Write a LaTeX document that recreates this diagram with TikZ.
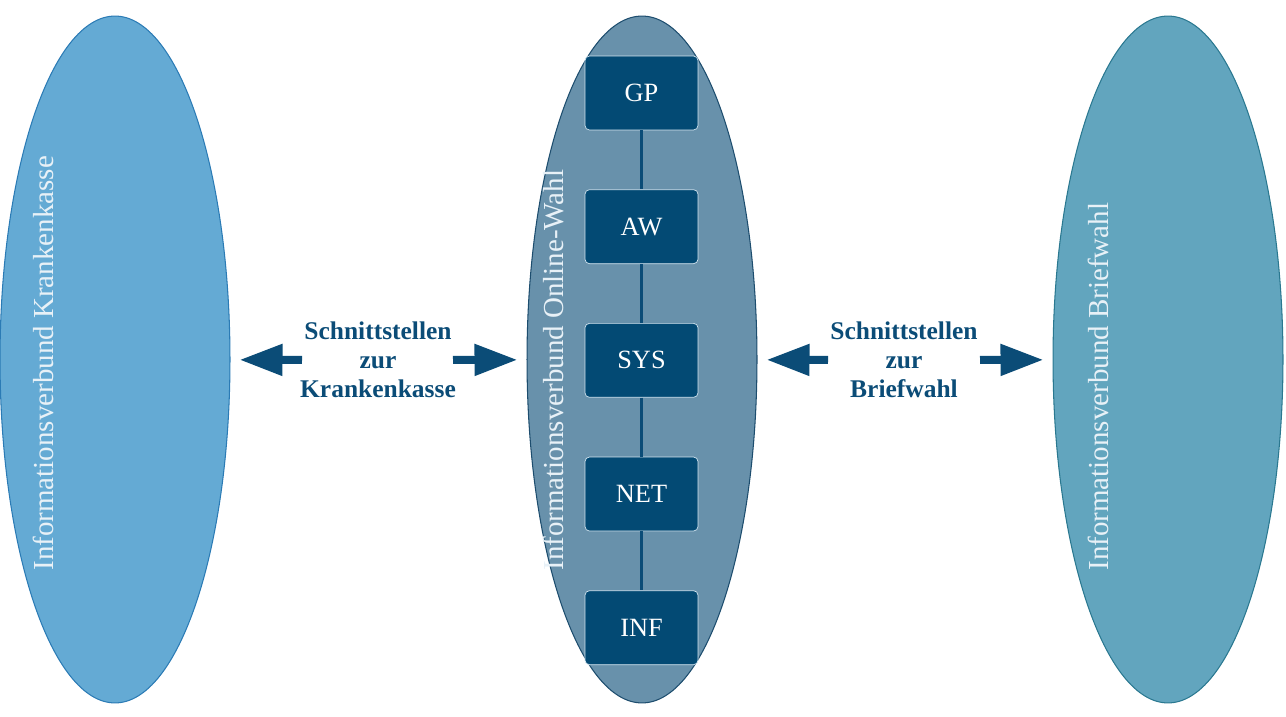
\documentclass[tikz,border=0pt]{standalone}
\usepackage{fontspec}
\setmainfont{Liberation Serif}
\usepackage{xcolor}
\usepackage{tikz}
\usetikzlibrary{shapes.geometric}
\usetikzlibrary{arrows.meta}
\usetikzlibrary{positioning}
\definecolor{kkfill}{HTML}{64AAD4}
\definecolor{kkline}{HTML}{2B7BB5}
\definecolor{owfill}{HTML}{6891AB}
\definecolor{owline}{HTML}{1D4D6E}
\definecolor{bwfill}{HTML}{62A5BE}
\definecolor{bwline}{HTML}{2A7890}
\definecolor{boxblue}{HTML}{034A74}
\definecolor{boxline}{HTML}{D2E4EF}
\definecolor{darkblue}{HTML}{0B4C77}
\definecolor{textwhite}{HTML}{E8F1F7}
\tikzset{
	verbund/.style={ellipse,draw,line width=0.6pt,inner sep=0pt,minimum width=4.6cm,minimum height=13.74cm},
	vtext/.style={rotate=90,anchor=base west,inner sep=0pt,text=textwhite,font=\fontsize{16.5}{18}\selectfont},
	layer/.style={rectangle,draw=boxline,fill=boxblue,rounded corners=2.5pt,text=white,
		minimum width=2.26cm,minimum height=1.48cm,font=\fontsize{15}{17}\selectfont},
	schnitt/.style={align=center,text=darkblue,font=\bfseries\fontsize{14.5}{16.5}\selectfont},
	pfeil/.style={-{Triangle[length=0.86cm,width=0.6cm]},line width=0.16cm,draw=darkblue,shorten >=0.18cm}
}

\begin{document}
\begin{tikzpicture}[x=0.02cm,y=0.02cm]
	\useasboundingbox (0,0) rectangle (1286,717);
	\node [verbund,fill=kkfill,draw=kkline] (kk) at (115,357.5) {};
	\node [verbund,fill=owfill,draw=owline] (ow) at (642,357.5) {};
	\node [verbund,fill=bwfill,draw=bwline] (bw) at (1168,357.5) {};
	\node [vtext] (tkk) at (53,146) {Informationsverbund Krankenkasse};
	\node [vtext] (tow) at (563,146) {Informationsverbund Online-Wahl};
	\node [vtext] (tbw) at (1108,146) {Informationsverbund Briefwahl};
	\node [layer] (gp) at (641.5,624) {GP};
	\node [layer,below=1.18cm of gp] (aw) {AW};
	\node [layer,below=1.18cm of aw] (sys) {SYS};
	\node [layer,below=1.18cm of sys] (net) {NET};
	\node [layer,below=1.18cm of net] (inf) {INF};
	\draw [darkblue,line width=1.2pt] (gp) -- (aw) (aw) -- (sys) (sys) -- (net) (net) -- (inf);
	\node [schnitt] (sk) at (378,357) {Schnittstellen\\zur\\Krankenkasse};
	\node [schnitt] (sb) at (904,357) {Schnittstellen\\zur\\Briefwahl};
	\coordinate (k1) at (302,357);
	\coordinate (k2) at (453,357);
	\coordinate (b1) at (828,357);
	\coordinate (b2) at (980,357);
	\draw [pfeil] (k1) -- (kk);
	\draw [pfeil] (k2) -- (ow);
	\draw [pfeil] (b1) -- (ow);
	\draw [pfeil] (b2) -- (bw);
\end{tikzpicture}
\end{document}
